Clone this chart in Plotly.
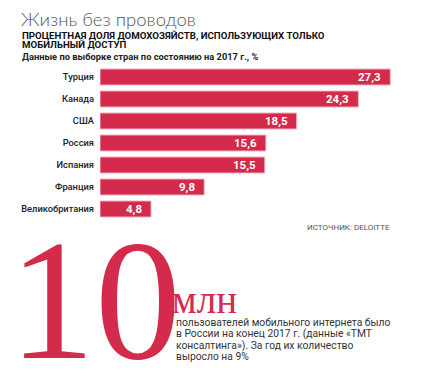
import plotly.graph_objects as go

countries = ["Турция", "Канада", "США", "Россия", "Испания", "Франция", "Великобритания"]
values = [27.3, 24.3, 18.5, 15.6, 15.5, 9.8, 4.8]
value_labels = ["27,3", "24,3", "18,5", "15,6", "15,5", "9,8", "4,8"]

title = "Жизнь без проводов"
subtitle1 = "ПРОЦЕНТНАЯ ДОЛЯ ДОМОХОЗЯЙСТВ, ИСПОЛЬЗУЮЩИХ ТОЛЬКО"
subtitle2 = "МОБИЛЬНЫЙ ДОСТУП"
subtitle3 = "Данные по выборке стран по состоянию на 2017 г., %"
source = "ИСТОЧНИК: DELOITTE"
big_number = "10"
big_unit = "млн"
body_lines = [
    "пользователей мобильного интернета было",
    "в России на конец 2017 г. (данные «ТМТ",
    "консалтинга»). За год их количество",
    "выросло на 9%",
]

RED = "#d42a4c"
W, H = 425, 380
L, R, T, B = 100, 6, 66, 160
PW, PH = W - L - R, H - T - B

def px(x):
    return (x - L) / PW

def py(y):
    return (H - B - y) / PH

fig = go.Figure()
fig.add_trace(go.Bar(
    x=values, y=countries, orientation="h",
    marker=dict(color=RED, line=dict(color="#f0b8c4", width=1)),
    hoverinfo="skip",
))

annotations = []
for c, v, lab in zip(countries, values, value_labels):
    annotations.append(dict(
        x=v, y=c, xref="x", yref="y", text=lab, showarrow=False,
        xanchor="right", yanchor="middle", xshift=-7,
        font=dict(family="Roboto", size=11.5, color="white", weight="bold"),
    ))

def txt(text, x, y, size, color, family="Roboto", xanchor="left", yanchor="middle", weight="normal"):
    annotations.append(dict(
        x=px(x), y=py(y), xref="paper", yref="paper", text=text, showarrow=False,
        xanchor=xanchor, yanchor=yanchor,
        font=dict(family=family, size=size, color=color, weight=weight),
    ))

txt(title, 19, 19, 18.5, "#555555", family="Lato", weight=300)
txt(subtitle1, 20, 35, 9.7, "#111111", weight="bold")
txt(subtitle2, 20, 44.5, 9.7, "#111111", weight="bold")
txt(subtitle3, 20, 56, 9.3, "#222222", weight="bold")
txt(source, 392, 227, 8, "#555555", xanchor="right")
txt(big_number, 7, 300, 172, RED, family="Liberation Serif")
txt(big_unit, 170, 299, 39, RED, family="Liberation Serif")
for i, line in enumerate(body_lines):
    txt(line, 174, 322 + i * 11.5, 10.3, "#333333")

fig.update_layout(
    width=W, height=H,
    margin=dict(l=L, r=R, t=T, b=B, autoexpand=False),
    paper_bgcolor="white", plot_bgcolor="white",
    showlegend=False, bargap=0.27,
    annotations=annotations,
    xaxis=dict(range=[0, 30], visible=False, fixedrange=True),
    yaxis=dict(autorange="reversed", showgrid=False, zeroline=False, showline=False,
               ticks="", ticklabelstandoff=5,
               tickfont=dict(family="Roboto", size=9.3, color="#222222", weight=500), fixedrange=True),
)

fig.write_html("out.html", config={"displayModeBar": False},
               post_script="document.body.style.margin='0';document.body.style.overflow='hidden';")
